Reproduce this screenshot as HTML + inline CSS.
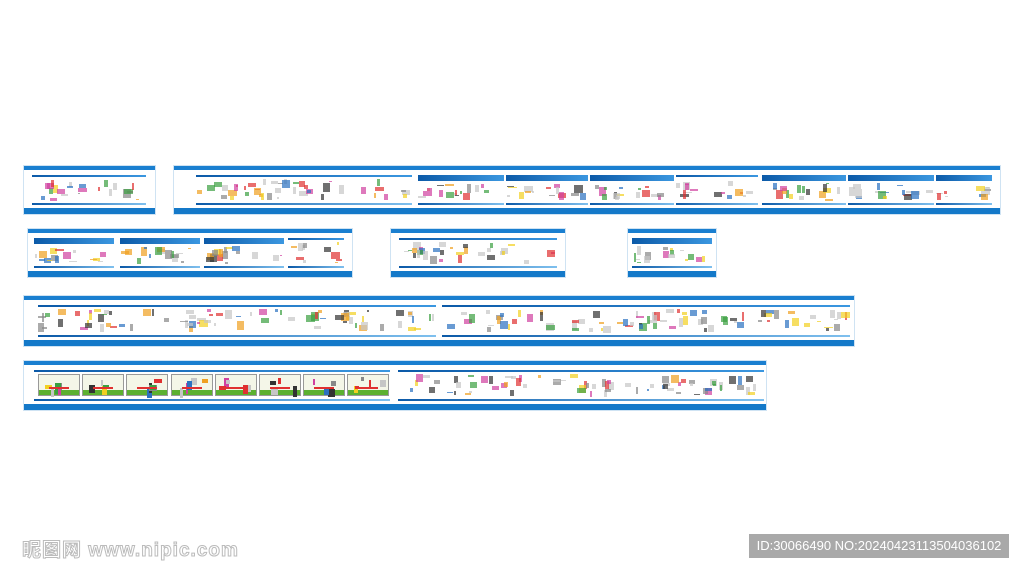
<!DOCTYPE html>
<html><head><meta charset="utf-8"><style>
body{margin:0;width:1024px;height:574px;background:#fff;position:relative;overflow:hidden;font-family:"Liberation Sans","Noto Sans CJK SC",sans-serif}
.p{position:absolute;background:#fff;box-shadow:0 0 0 1px #cfe3f3}
.p .t{position:absolute;left:0;right:0;top:0;height:4px;background:#1a7fd0}
.p .b{position:absolute;left:0;right:0;bottom:0;height:6px;background:#1479c9}
.s{position:absolute}
.s .h{position:absolute;left:0;right:0;top:0;height:2px;background:linear-gradient(90deg,#0c5aa8,#3b97e0)}
.s .h.big{height:6px}
.s .f{position:absolute;left:0;right:0;bottom:0;height:2px;background:linear-gradient(90deg,#0c5aa8,#7fc0ee)}
.d{position:absolute}
.card{position:absolute;border:1px solid #999;background:#f4f6e8}
.card .g{position:absolute;left:0;right:0;bottom:0;height:5px;background:#5cb030}
.wm{position:absolute;left:22px;top:535px;font-size:19px;color:#fff;-webkit-text-stroke:1px #bbb;font-weight:bold;letter-spacing:1px}
.id{position:absolute;left:749px;top:534px;width:260px;height:24px;background:#a9a9a9;color:#fff;font-size:13px;line-height:24px;text-align:center}
</style></head><body>
<div id="root"></div>
<div class="wm">昵图网 www.nipic.com</div>
<div class="id">ID:30066490 NO:20240423113504036102</div>
<script>
var seed=7;function r(){seed=(seed*9301+49297)%233280;return seed/233280;}
var cols=['#e03030','#f0a020','#2a70c0','#333','#d040a0','#3aa040','#f2d020','#888','#c6c6c6','#c6c6c6','#c6c6c6'];
var P=[
 [24,166,131,48,[[8,122,0]]],
 [174,166,826,48,[[22,238,0],[244,330,1],[332,414,1],[416,500,1],[502,584,0],[588,672,1],[674,760,1],[762,818,1]]],
 [28,229,324,48,[[6,86,1],[92,172,1],[176,256,1],[260,316,0]]],
 [391,229,174,48,[[8,166,0]]],
 [628,229,88,48,[[4,84,1]]],
 [24,296,830,50,[[14,412,0],[418,826,0]]],
 [24,361,742,49,[[10,366,2],[374,740,0]]]
];
var root=document.getElementById('root'),html='';
P.forEach(function(p){
 html+='<div class="p" style="left:'+p[0]+'px;top:'+p[1]+'px;width:'+p[2]+'px;height:'+p[3]+'px"><div class="t"></div><div class="b"></div>';
 p[4].forEach(function(s){
  var w=s[1]-s[0],h=p[3]-18;
  html+='<div class="s" style="left:'+s[0]+'px;top:9px;width:'+w+'px;height:'+h+'px"><div class="h'+(s[2]==1?' big':'')+'"></div><div class="f"></div>';
  if(s[2]==2){
   for(var k=0;k<8;k++){
    html+='<div class="card" style="left:'+(4+k*44.2)+'px;top:4px;width:40px;height:'+(h-11)+'px"><div class="g"></div>';
    for(var j=0;j<5;j++){var c=cols[Math.floor(r()*cols.length)];html+='<div class="d" style="left:'+(3+r()*30).toFixed(1)+'px;top:'+(2+r()*12).toFixed(1)+'px;width:'+(2+r()*6).toFixed(1)+'px;height:'+(3+r()*8).toFixed(1)+'px;background:'+c+'"></div>';}
    html+='<div class="d" style="left:10px;bottom:6px;width:20px;height:2px;background:#e03030"></div></div>';
   }
  } else {
  var n=Math.max(3,Math.round(w/5));
  for(var i=0;i<n;i++){
   var dw=2+r()*7,dh=1+r()*8,x=r()*(w-dw),y=(s[2]?8:4)+r()*(h-(s[2]?12:8)-dh);
   var c=cols[Math.floor(r()*cols.length)];
   html+='<div class="d" style="left:'+x.toFixed(1)+'px;top:'+y.toFixed(1)+'px;width:'+dw.toFixed(1)+'px;height:'+dh.toFixed(1)+'px;background:'+c+';opacity:.7"></div>';
  }
  }
  html+='</div>';
 });
 html+='</div>';
});
root.innerHTML=html;
</script>
</body></html>
